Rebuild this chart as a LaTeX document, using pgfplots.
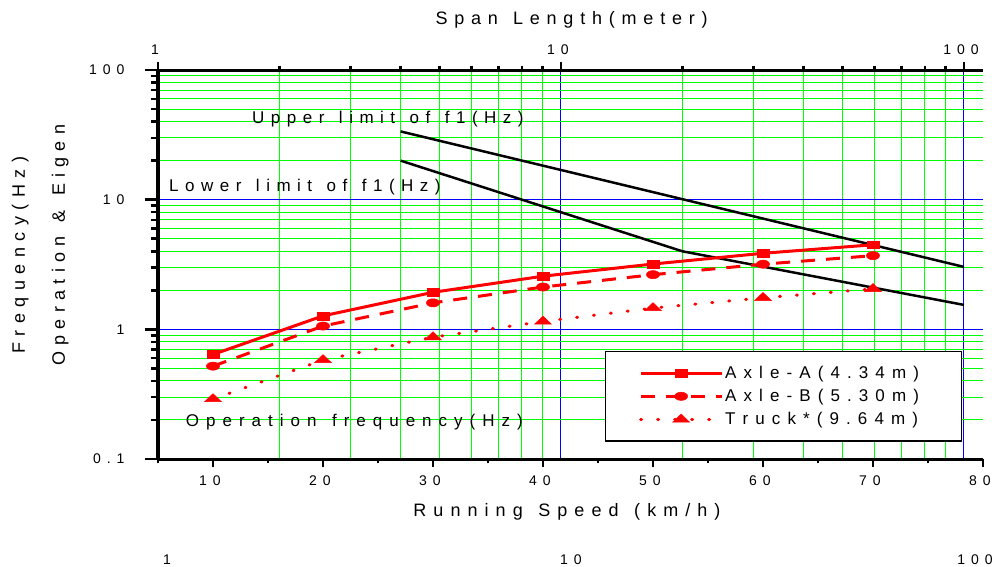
\documentclass[border=0pt]{standalone}
\usepackage{pgfplots}
\pgfplotsset{compat=1.18}
\usepackage{fontspec}
\setmainfont{Liberation Sans}
% manual letter spacing: \ls{kern in pt}{text}, \W = word gap
\def\lsend{\lsend}
\protected\def\ls#1#2{\def\lsk{\kern#1pt\relax}\lsloop#2\lsend}
\def\lsloop#1{\ifx#1\lsend\else#1\lsk\expandafter\lsloop\fi}
\def\W{\hskip1.5pt\relax}
\protected\def\tl#1{\ls{6}{#1}}
\newcommand{\titlef}{\fontsize{18}{21}\selectfont}
\newcommand{\annf}{\fontsize{17}{20}\selectfont}
\newcommand{\tickf}{\fontsize{14}{16}\selectfont}
\definecolor{gridgreen}{RGB}{0,255,0}
\definecolor{pblue}{RGB}{0,0,255}
\definecolor{pred}{RGB}{255,0,0}
\begin{document}
\begin{tikzpicture}[x=1pt,y=1pt]
\useasboundingbox (-158,-107) rectangle (837,459);
% grid, top axis and limit lines
\begin{axis}[
  scale only axis, width=825pt, height=389pt,
  at={(0pt,0pt)}, anchor=south west,
  xmode=log, xmin=1, xmax=111.5,
  ymode=log, ymin=0.1, ymax=100,
  tick align=outside,
  major tick length=8pt, minor tick length=4.5pt,
  tick style={black, line width=2.5pt},
  axis line style={line width=3pt},
  clip=false,
  axis x line*=top, axis y line*=left,
  xtick={1,10,100}, xticklabels={\tl{1},\tl{10},\tl{100}},
  ytick={0.1,1,10,100}, yticklabels={},
  grid=both,
  major grid style={pblue, line width=1pt},
  minor grid style={gridgreen, line width=1pt},
  xticklabel style={font=\tickf, yshift=3.5pt},
]
\addplot[black, line width=2.5pt] coordinates {(4,33.6) (100,3.03)};
\addplot[black, line width=2.5pt] coordinates {(4,20) (20,4) (100,1.543)};
\end{axis}
% data axis (running speed)
\begin{axis}[
  scale only axis, width=825pt, height=389pt,
  at={(0pt,0pt)}, anchor=south west,
  xmin=5, xmax=80,
  ymode=log, ymin=0.1, ymax=100,
  tick align=outside,
  major tick length=8pt, minor tick length=4.5pt,
  tick style={black, line width=2.5pt},
  axis line style={line width=3pt},
  clip=false,
  axis x line*=bottom, axis y line*=left,
  xtick={10,20,30,40,50,60,70,80},
  xticklabels={\tl{10},\tl{20},\tl{30},\tl{40},\tl{50},\tl{60},\tl{70},\tl{80}},
  minor xtick={5,15,25,35,45,55,65,75},
  ytick=\empty,
  xticklabel style={font=\tickf, yshift=-5pt},
  legend cell align=left,
  legend style={at={(0.5418,0.2776)}, anchor=north west, draw=black, line width=1.3pt,
    fill=white, font=\annf, inner xsep=33.5pt, inner ysep=12.6pt, row sep=5.3pt,
    /tikz/every even column/.append style={column sep=4pt}},
  legend image code/.code={\draw[mark repeat=2,mark phase=2,#1] plot coordinates {(0pt,0pt) (40.5pt,0pt) (81pt,0pt)};},
]
\addplot[pred, line width=3pt, mark=square*, mark size=3.9pt, mark options={solid, line width=0.5pt, xscale=1.5}]
  coordinates {(10,0.64) (20,1.27) (30,1.93) (40,2.57) (50,3.19) (60,3.86) (70,4.49)};
\addlegendentry{\ls{7.1}{Axle-A(4.34m)}}
\addplot[pred, line width=3pt, dash pattern=on 14pt off 11pt, mark=*, mark size=4.1pt, mark options={solid, line width=0.5pt, xscale=1.6}]
  coordinates {(10,0.52) (20,1.06) (30,1.60) (40,2.12) (50,2.64) (60,3.18) (70,3.70)};
\addlegendentry{\ls{7.1}{Axle-B(5.30m)}}
\addplot[pred, line width=3pt, line cap=round, dash pattern=on 1pt off 16pt, mark=triangle*, mark size=5.4pt, mark options={solid, line width=0.5pt, xscale=1.8}]
  coordinates {(10,0.29) (20,0.58) (30,0.87) (40,1.15) (50,1.46) (60,1.75) (70,2.05)};
\addlegendentry{\ls{7.1}{Truck*(9.64m)}}
\end{axis}
% left y axis
\begin{axis}[
  scale only axis, width=825pt, height=389pt,
  at={(0pt,0pt)}, anchor=south west,
  xmin=0, xmax=1,
  ymode=log, ymin=0.1, ymax=100,
  tick align=outside,
  major tick length=13pt, minor tick length=7pt,
  tick style={black, line width=2.5pt},
  axis line style={line width=3pt},
  axis x line=none, axis y line*=left,
  ytick={0.1,1,10,100}, yticklabels={\tl{0.1},\tl{1},\tl{10},\tl{100}},
  yticklabel style={font=\tickf, xshift=-11pt},
]
\end{axis}
% titles and annotations
\node[anchor=base, font=\titlef, inner sep=0] at (417,434) {\ls{6.8}{Span\W Length(meter)}};
\node[anchor=base, font=\titlef, inner sep=0] at (412.5,-57.7) {\ls{7.05}{Running\W Speed\W(km/h)}};
\node[anchor=base west, font=\annf, inner sep=0] at (94,335.7) {\ls{6.5}{Upper\W limit\W of\W f1(Hz)}};
\node[anchor=base west, font=\annf, inner sep=0] at (11,267.3) {\ls{6.5}{Lower\W limit\W of\W f1(Hz)}};
\node[anchor=base west, font=\annf, inner sep=0] at (27.7,33) {\ls{7.0}{Operation\W frequency(Hz)}};
\node[anchor=base, rotate=90, font=\titlef, inner sep=0] at (-133,207) {\ls{6.5}{Frequency(Hz)}};
\node[anchor=base, rotate=90, font=\titlef, inner sep=0] at (-93,217) {\ls{6.3}{Operation\W\&\W Eigen}};
\node[anchor=base, font=\tickf, inner sep=0] at (12,-105) {\tl{1}};
\node[anchor=base, font=\tickf, inner sep=0] at (416,-105) {\tl{10}};
\node[anchor=base, font=\tickf, inner sep=0] at (820,-105) {\tl{100}};
\end{tikzpicture}
\end{document}
